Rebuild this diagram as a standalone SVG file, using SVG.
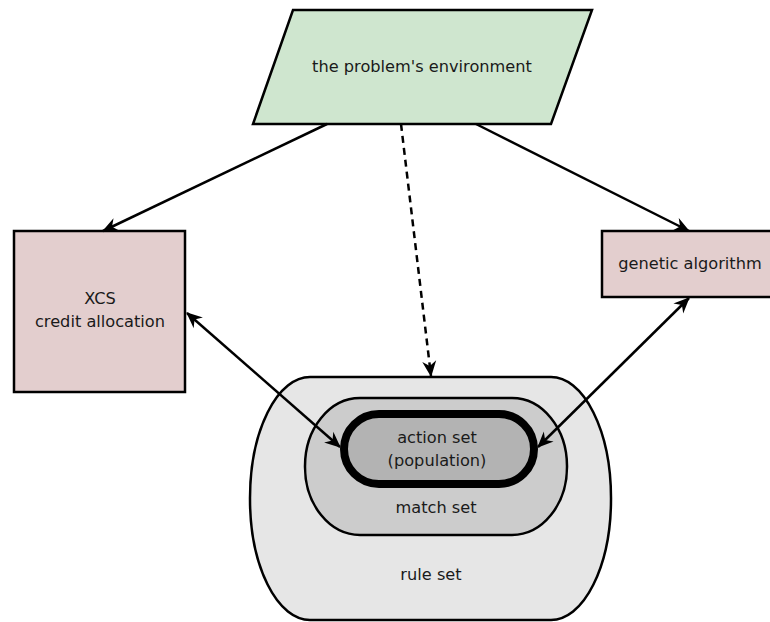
<svg xmlns="http://www.w3.org/2000/svg" width="770" height="622" viewBox="0 0 770 622">
<style>
text{font-family:"DejaVu Sans",sans-serif;font-size:16.2px;fill:#1a1a1a;text-anchor:middle}
.b{stroke:#000;stroke-width:2.5}
.c{fill:none;stroke:#000;stroke-width:2.5}
</style>
<defs>
<marker id="ae" viewBox="-16 -8 18 16" markerWidth="18" markerHeight="16" refX="0" refY="0" orient="auto" markerUnits="userSpaceOnUse">
<path d="M1,0 L-15,-7 L-10,0 L-15,7 z" fill="#000"/>
</marker>
<marker id="as" viewBox="-2 -8 18 16" markerWidth="18" markerHeight="16" refX="0" refY="0" orient="auto" markerUnits="userSpaceOnUse">
<path d="M-1,0 L15,-7 L10,0 L15,7 z" fill="#000"/>
</marker>
</defs>
<rect width="770" height="622" fill="#fff"/>
<g id="env">
<polygon class="b" points="293,10 592,10 551,124 253,124" fill="#cfe6cf"/>
<text x="422" y="72">the problem's environment</text>
</g>
<g id="xcs">
<rect class="b" x="14" y="231" width="171" height="161" fill="#e3cece"/>
<text x="100" y="304">XCS</text>
<text x="100" y="327">credit allocation</text>
</g>
<g id="ga">
<rect class="b" x="602" y="231" width="170" height="66" fill="#e3cece"/>
<text x="690" y="269">genetic algorithm</text>
</g>
<g id="ruleset">
<rect class="b" x="250" y="377" width="361" height="243" rx="60" ry="121" fill="#e6e6e6"/>
<text x="431" y="580">rule set</text>
</g>
<g id="matchset">
<rect class="b" x="305" y="398" width="262" height="137" rx="55" ry="68" fill="#cccccc"/>
<text x="436" y="513">match set</text>
</g>
<g id="actionset">
<rect x="344" y="414" width="190" height="70" rx="35" fill="#b3b3b3" stroke="#000" stroke-width="8"/>
<text x="437" y="443">action set</text>
<text x="437" y="466">(population)</text>
</g>
<g id="connectors">
<line class="c" x1="327" y1="124" x2="103" y2="231" marker-end="url(#ae)"/>
<line class="c" x1="476" y1="124" x2="689" y2="231" marker-end="url(#ae)"/>
<line class="c" x1="401" y1="124" x2="431" y2="376" stroke-dasharray="7,5" marker-end="url(#ae)"/>
<line class="c" x1="187" y1="313" x2="340" y2="447" marker-start="url(#as)" marker-end="url(#ae)"/>
<line class="c" x1="689" y1="298" x2="538" y2="447" marker-start="url(#as)" marker-end="url(#ae)"/>
</g>
</svg>
